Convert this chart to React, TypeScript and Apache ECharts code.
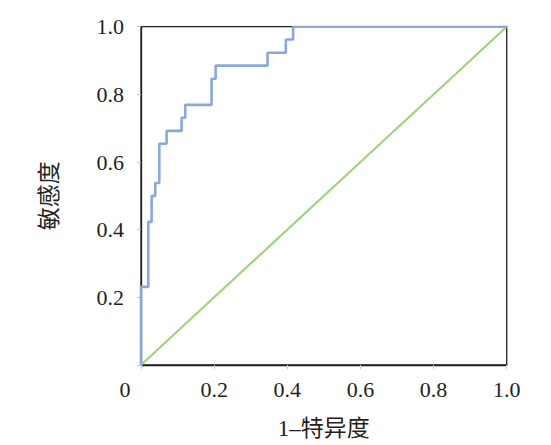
import React, { useEffect, useRef } from "react";
import * as echarts from "echarts";

const fpr = [0, 0, 0.02, 0.029, 0.039, 0.05, 0.07, 0.111, 0.121, 0.193, 0.204, 0.346, 0.396, 0.416, 1];
const tpr = [0, 0.231, 0.423, 0.5, 0.538, 0.654, 0.692, 0.731, 0.769, 0.846, 0.885, 0.923, 0.962, 1, 1];
const refLine = [0, 1];
const xName = "1\u2013特异度";
const yName = "敏感度";

const FONT = "'Liberation Serif', 'Times New Roman', 'Noto Sans CJK SC', serif";

export default function App() {
  const ref = useRef<HTMLDivElement>(null);
  useEffect(() => {
    if (!ref.current) return;
    const chart = echarts.init(ref.current, undefined, { renderer: "svg" });
    chart.setOption({
      animation: false,
      backgroundColor: "#ffffff",
      grid: {
        left: 141,
        right: 44.3,
        top: 26.7,
        bottom: 78.3,
        show: true,
        borderColor: "#231f20",
        borderWidth: 1.3,
      },
      xAxis: {
        type: "value",
        min: 0,
        max: 1,
        interval: 0.2,
        name: xName,
        nameLocation: "middle",
        nameGap: 52,
        nameTextStyle: { fontFamily: FONT, fontSize: 23, color: "#231f20" },
        axisLine: { show: true, lineStyle: { color: "#231f20", width: 1.3 } },
        axisTick: { show: true, length: 4, lineStyle: { color: "#c8c8c8" } },
        splitLine: { show: false },
        axisLabel: {
          margin: 13,
          fontFamily: FONT,
          fontSize: 22,
          color: "#231f20",
          formatter: (v: number) => (v === 0 ? "{z|0}" : v.toFixed(1)),
          rich: {
            z: { fontFamily: FONT, fontSize: 22, color: "#231f20", padding: [0, 32, 0, 0] },
          },
        },
      },
      yAxis: {
        type: "value",
        min: 0,
        max: 1,
        interval: 0.2,
        name: yName,
        nameLocation: "middle",
        nameGap: 80,
        nameRotate: 90,
        nameTextStyle: { fontFamily: FONT, fontSize: 23, color: "#231f20" },
        axisLine: { show: true, lineStyle: { color: "#231f20", width: 1.3 } },
        axisTick: { show: true, length: 4, lineStyle: { color: "#c8c8c8" } },
        splitLine: { show: false },
        axisLabel: {
          margin: 17,
          fontFamily: FONT,
          fontSize: 22,
          color: "#231f20",
          formatter: (v: number) => (v === 0 ? "" : v.toFixed(1)),
        },
      },
      series: [
        {
          type: "line",
          data: refLine.map((v) => [v, v]),
          showSymbol: false,
          symbol: "none",
          lineStyle: { color: "#9fd47e", width: 2.2 },
          z: 2,
        },
        {
          type: "line",
          step: "end",
          data: fpr.map((x, i) => [x, tpr[i]]),
          showSymbol: false,
          symbol: "none",
          lineStyle: { color: "#8aa8dc", width: 2.6 },
          z: 3,
        },
      ],
    });
    return () => chart.dispose();
  }, []);
  return (
    <div
      ref={ref}
      style={{ position: "fixed", left: 0, top: 0, width: 551, height: 445 }}
    />
  );
}
